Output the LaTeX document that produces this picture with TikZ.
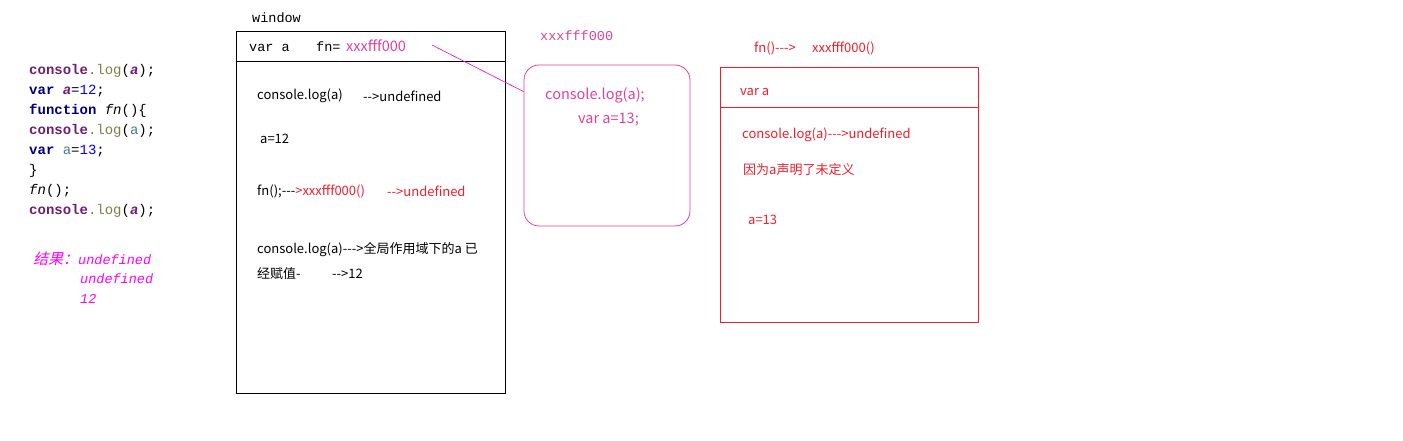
\documentclass[tikz,border=0pt]{standalone}
\usepackage{fontspec}
\setmonofont{Liberation Mono}
\newfontfamily\uifont{Noto Sans CJK SC}
\newfontfamily\cjkslant[FakeSlant=0.25]{Noto Sans CJK SC}
\definecolor{kwnavy}{HTML}{000080}
\definecolor{conpurple}{HTML}{6E1F72}
\definecolor{logolive}{HTML}{7F7F3F}
\definecolor{numblue}{HTML}{0000FF}
\definecolor{varteal}{HTML}{3F7F7F}
\definecolor{resmagenta}{HTML}{FF00FF}
\definecolor{addrpink}{HTML}{E0409A}
\definecolor{linkmagenta}{HTML}{E000E0}
\definecolor{fnred}{HTML}{F01E2C}

\begin{document}
\begin{tikzpicture}[x=1pt,y=-1pt,
		every node/.style={inner sep=0pt,anchor=west},
		code/.style={font=\fontsize{14}{16}\selectfont\ttfamily},
		mono/.style={font=\fontsize{13.5}{15}\selectfont\ttfamily},
		txt/.style={font=\fontsize{13}{15}\selectfont\uifont},
		bigtxt/.style={font=\fontsize{14.5}{16}\selectfont\uifont},
		scopebox/.style={draw,line width=0.8pt,anchor=center},
		result/.style={text=resmagenta,font=\fontsize{13.5}{15}\selectfont\ttfamily\itshape}]
	\useasboundingbox (0,0) rectangle (1403,441);
	\node[code] (c1) at (29,71) {\textcolor{conpurple}{\bfseries console}\textcolor{logolive}{.log}(\textcolor{conpurple}{\bfseries\itshape a});};
	\node[code] (c2) at (29,91) {\textcolor{kwnavy}{\bfseries var} \textcolor{conpurple}{\bfseries\itshape a}=\textcolor{numblue}{12};};
	\node[code] (c3) at (29,111) {\textcolor{kwnavy}{\bfseries function} \textit{fn}()\{};
	\node[code] (c4) at (29,131) {\textcolor{conpurple}{\bfseries console}\textcolor{logolive}{.log}(\textcolor{varteal}{a});};
	\node[code] (c5) at (29,151) {\textcolor{kwnavy}{\bfseries var} \textcolor{varteal}{a}=\textcolor{numblue}{13};};
	\node[code] (c6) at (29,171) {\}};
	\node[code] (c7) at (29,191) {\textit{fn}();};
	\node[code] (c8) at (29,211) {\textcolor{conpurple}{\bfseries console}\textcolor{logolive}{.log}(\textcolor{conpurple}{\bfseries\itshape a});};
	\node[result] (r1) at (33,259) {{\fontsize{15}{16}\selectfont\cjkslant 结果：}undefined};
	\node[result] (r2) at (80,279) {undefined};
	\node[result] (r3) at (80,299) {12};

	\node[mono] (wlabel) at (252,18) {window};
	\node[scopebox,minimum width=269,minimum height=362] (window) at (370.5,212) {};
	\draw[line width=0.8pt] ([yshift=-31]window.north west) -- ([yshift=-31]window.north east);
	\node[mono] (hvar) at (249,48) {var a};
	\node[mono] (hfn) at (316,47) {fn=};
	\node[bigtxt,text=addrpink] (haddr) at (346,46) {xxxfff000};
	\node[txt] (w1) at (257,96) {console.log(a)};
	\node[txt] (w1r) at (363,96) {-->undefined};
	\node[txt] (w2) at (260,139) {a=12};
	\node[txt] (w3) at (257,191) {fn();---\textcolor{fnred}{>xxxfff000()}};
	\node[txt,text=fnred] (w3r) at (387,191) {-->undefined};
	\node[txt] (w4) at (257,250) {console.log(a)--->全局作用域下的a 已};
	\node[txt] (w5) at (257,274) {经赋值-};
	\node[txt] (w5r) at (332,274) {-->12};

	\node[mono,text=addrpink] (fnaddr) at (540,36) {xxxfff000};
	\node[scopebox,draw=addrpink,rounded corners=15pt,minimum width=166,minimum height=161] (fnbox) at (607,145.5) {};
	\node[bigtxt,text=addrpink] (f1) at (545,95) {console.log(a);};
	\node[bigtxt,text=addrpink] (f2) at (578,120) {var a=13;};
	\coordinate (lnstart) at (432,45);
	\draw[linkmagenta,line width=0.6pt] (lnstart) -- ([yshift=-27]fnbox.north west);

	\node[txt,text=fnred] (ctitle) at (754,48) {fn()--->};
	\node[txt,text=fnred] (ctaddr) at (812,48) {xxxfff000()};
	\node[scopebox,draw=fnred,minimum width=258,minimum height=255] (fnscope) at (849,194.5) {};
	\draw[fnred,line width=0.8pt] ([yshift=-41]fnscope.north west) -- ([yshift=-41]fnscope.north east);
	\node[txt,text=fnred] (s0) at (740,92) {var a};
	\node[txt,text=fnred] (s1) at (742,135) {console.log(a)--->undefined};
	\node[txt,text=fnred] (s2) at (743,170) {因为a声明了未定义};
	\node[txt,text=fnred] (s3) at (748,220) {a=13};
\end{tikzpicture}
\end{document}
